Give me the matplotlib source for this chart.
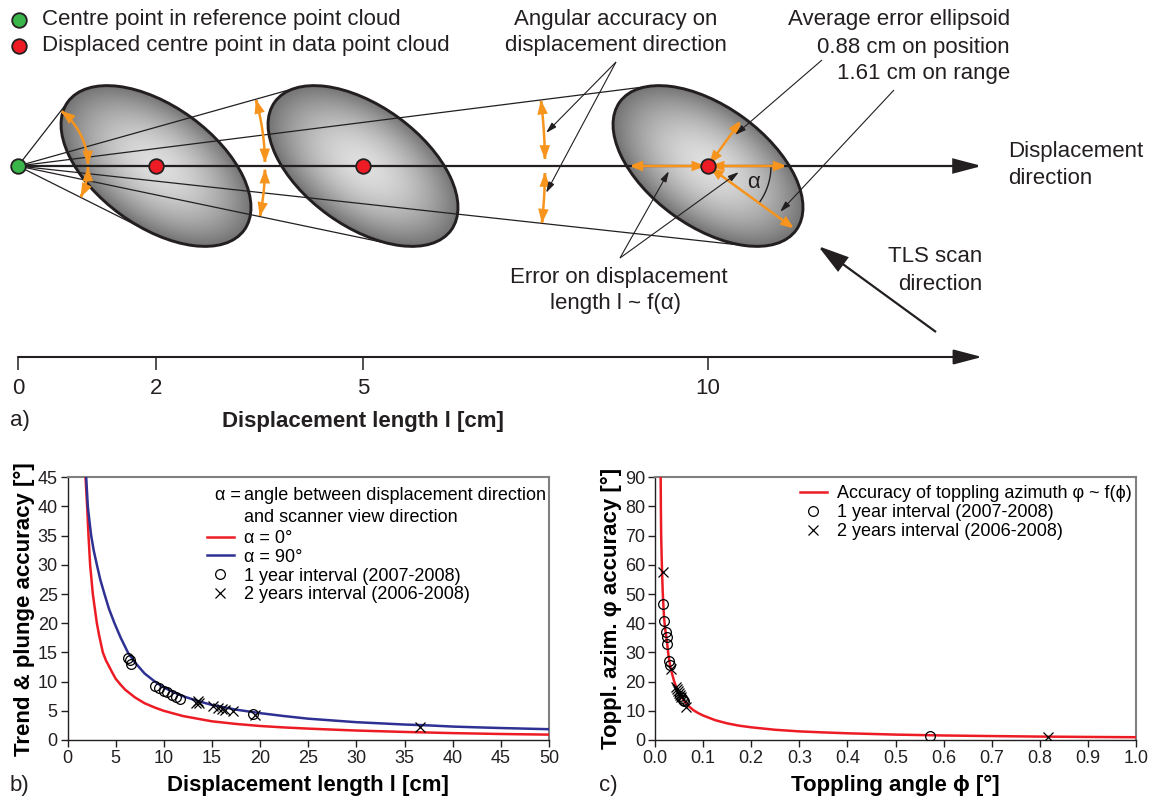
import numpy as np
import matplotlib
matplotlib.use("Agg")
import matplotlib.pyplot as plt
from matplotlib.patches import Ellipse, FancyArrowPatch
from matplotlib.path import Path

plt.rcParams['font.family'] = ['Liberation Sans', 'DejaVu Sans']

# ------------------------------------------------------------------ data
# panel a (schematic)
axis_ticks_cm = [0, 2, 5, 10]
displaced_cm = [2, 5, 10]
pos_err_label = "0.88 cm on position"
range_err_label = "1.61 cm on range"

# panel b: accuracy curves
b_l_a0 = [1.87, 2.04, 2.18, 2.35, 2.63, 3.05, 3.30, 3.67, 4.00, 4.29, 4.60, 5.00,
          5.50, 6.00, 7.00, 8.00, 9.00, 10.0, 12.0, 15.0, 17.5, 20.0, 22.5, 25.0,
          27.5, 30.0, 35.0, 40.0, 45.0, 50.0]
b_v_a0 = [45.0, 40.0, 35.0, 30.0, 25.0, 20.0, 17.8, 15.0, 13.6, 12.7, 11.7, 10.5,
          9.5, 8.6, 7.3, 6.3, 5.6, 5.0, 4.1, 3.2, 2.75, 2.4, 2.15, 1.95,
          1.78, 1.62, 1.38, 1.18, 1.03, 0.92]
b_l_a90 = [1.94, 2.11, 2.28, 2.46, 2.72, 3.05, 3.40, 3.84, 4.30, 4.88, 5.50, 6.27,
           7.00, 8.00, 9.00, 10.0, 11.0, 12.0, 13.5, 15.0, 17.5, 20.0, 22.5, 25.0,
           27.5, 30.0, 32.5, 35.0, 37.5, 40.0, 42.5, 45.0, 47.5, 50.0]
b_v_a90 = [45.0, 40.0, 37.5, 35.0, 32.5, 30.0, 27.5, 25.0, 22.5, 20.0, 17.6, 15.0,
           13.3, 11.4, 10.1, 9.0, 8.2, 7.5, 6.7, 6.0, 5.2, 4.6, 4.1, 3.65,
           3.35, 3.05, 2.85, 2.65, 2.5, 2.3, 2.17, 2.05, 1.95, 1.85]
b_1y_l = [6.3, 6.45, 6.6, 9.1, 9.5, 10.0, 10.3, 10.9, 11.3, 11.7, 19.3]
b_1y_v = [14.0, 13.7, 13.1, 9.3, 8.9, 8.45, 8.3, 7.7, 7.4, 7.1, 4.5]
b_2y_l = [13.3, 13.5, 13.7, 15.1, 15.6, 16.0, 16.4, 17.2, 19.5, 36.6]
b_2y_v = [6.4, 6.7, 6.3, 5.9, 5.5, 5.3, 5.2, 5.0, 4.2, 2.2]

# panel c
c_phi = [0.0118, 0.0122, 0.0128, 0.0138, 0.0146, 0.0160, 0.0175, 0.0188, 0.0205,
         0.0225, 0.0250, 0.0280, 0.0310, 0.0350, 0.0400, 0.0450, 0.0500, 0.0600,
         0.0700, 0.0800, 0.0900, 0.100, 0.125, 0.150, 0.175, 0.200, 0.250, 0.300,
         0.350, 0.400, 0.500, 0.600, 0.700, 0.800, 0.900, 1.000]
c_acc = [90.0, 80.0, 70.0, 63.0, 58.0, 51.0, 46.0, 42.0, 39.0,
         36.5, 33.5, 29.0, 26.0, 23.0, 20.0, 17.8, 16.0, 13.5,
         11.6, 10.2, 9.2, 8.4, 6.8, 5.7, 4.9, 4.35, 3.5, 2.95,
         2.6, 2.3, 1.85, 1.55, 1.35, 1.17, 1.05, 0.95]
c_1y_phi = [0.0174, 0.0183, 0.0229, 0.0243, 0.0257, 0.0285, 0.0313, 0.053, 0.056, 0.059, 0.061, 0.572]
c_1y_acc = [46.5, 40.9, 36.9, 35.4, 32.9, 27.1, 25.6, 15.0, 14.3, 13.8, 13.3, 1.4]
c_2y_phi = [0.016, 0.034, 0.043, 0.045, 0.047, 0.049, 0.052, 0.054, 0.0646, 0.818]
c_2y_acc = [57.6, 24.3, 18.3, 17.6, 16.8, 16.0, 15.3, 14.6, 11.4, 0.9]

# ------------------------------------------------------------------ style
W, H = 1151, 801
RED = '#ed1c24'
BLUE = '#2e3192'
GREEN = '#3ab54a'
ORANGE = '#f7941d'
DARK = '#231f20'
FS_DIAG = 16
FS_LEG = 13
FS_TICK = 13
FS_LAB = 16

fig = plt.figure(figsize=(W / 100, H / 100), dpi=100)

# ================================================================== panel a
PXCM = 69.0      # pixels per cm on the schematic axis
X0, YL = 18.0, 166.0
A_H = 440
ax_a = fig.add_axes([0, 1 - A_H / H, 1, A_H / H])
ax_a.axis('off')


def P(px, py):
    return ((px - X0) / PXCM, (YL - py) / PXCM)


def arrow(p0, p1, style, lw, color, ms, z=5):
    a = FancyArrowPatch(p0, p1, arrowstyle=style, mutation_scale=ms, lw=lw,
                        color=color, shrinkA=0, shrinkB=0, zorder=z,
                        joinstyle='miter', capstyle='butt')
    ax_a.add_patch(a)


def path_arrow(pts, style, lw, color, ms, z=6):
    a = FancyArrowPatch(path=Path(pts), arrowstyle=style, mutation_scale=ms,
                        lw=lw, color=color, zorder=z, joinstyle='miter',
                        capstyle='butt')
    ax_a.add_patch(a)


ELL_A, ELL_B, ELL_ANG = 109 / PXCM, 60 / PXCM, -36.0
tangents = []
for cx in displaced_cm:
    ext = ELL_A * 1.05
    xs = np.linspace(cx - ext, cx + ext, 300)
    ys = np.linspace(-ext, ext, 300)
    X, Y = np.meshgrid(xs, ys)
    t = np.deg2rad(ELL_ANG)
    u = (X - cx) * np.cos(t) + Y * np.sin(t)
    v = -(X - cx) * np.sin(t) + Y * np.cos(t)
    r = np.sqrt((u / ELL_A) ** 2 + (v / ELL_B) ** 2)
    g = 0.87 - 0.42 * np.clip(r, 0, 1) ** 1.8
    im = ax_a.imshow(g, cmap='gray', vmin=0, vmax=1, origin='lower',
                     extent=(xs[0], xs[-1], ys[0], ys[-1]),
                     interpolation='bilinear', zorder=2)
    clip = Ellipse((cx, 0), 2 * ELL_A, 2 * ELL_B, angle=ELL_ANG,
                   transform=ax_a.transData)
    im.set_clip_path(clip)
    ax_a.add_patch(Ellipse((cx, 0), 2 * ELL_A, 2 * ELL_B, angle=ELL_ANG,
                           fc='none', ec=DARK, lw=2.1, zorder=3))
    tt = np.linspace(0, 2 * np.pi, 4000)
    bx = cx + ELL_A * np.cos(tt) * np.cos(t) - ELL_B * np.sin(tt) * np.sin(t)
    by = ELL_A * np.cos(tt) * np.sin(t) + ELL_B * np.sin(tt) * np.cos(t)
    angs = np.arctan2(by, bx)
    iu, il = np.argmax(angs), np.argmin(angs)
    tangents.append(((bx[iu], by[iu]), (bx[il], by[il]), angs[iu], angs[il]))
    for (px_, py_) in [(bx[iu], by[iu]), (bx[il], by[il])]:
        ax_a.plot([0, px_], [0, py_], color=DARK, lw=0.9, zorder=4)

# main displacement arrow
arrow(P(18, 166), P(982, 166), '-|>,head_length=1.75,head_width=0.46', 1.6, DARK, 10)

# orange angular-accuracy arcs
arc_r = [70 / PXCM, 247 / PXCM, 527 / PXCM]
OST = '<|-|>,head_length=1.15,head_width=0.42'
for rr, (tu, tl, au, al) in zip(arc_r, tangents):
    for a0, a1 in [(au, 0.012), (-0.012, al)]:
        aa = np.linspace(a0, a1, 60)
        pts = np.column_stack([rr * np.cos(aa), rr * np.sin(aa)])
        path_arrow(pts, OST, 1.8, ORANGE, 6)

# orange error arrows in the last ellipse
c3 = displaced_cm[-1]
th = np.deg2rad(ELL_ANG)
inv = np.sqrt(np.cos(th) ** 2 / ELL_A ** 2 + np.sin(th) ** 2 / ELL_B ** 2)
hx = 1 / inv
g = 2 / PXCM
arrow((c3 - g, 0), (c3 - hx + 0.03, 0), OST, 1.8, ORANGE, 6, z=6)
arrow((c3 + g, 0), (c3 + hx - 0.03, 0), OST, 1.8, ORANGE, 6, z=6)
arrow((c3 + g * np.cos(th), g * np.sin(th)),
      (c3 + 0.98 * ELL_A * np.cos(th), 0.98 * ELL_A * np.sin(th)), OST, 1.8, ORANGE, 6, z=6)
tp = th + np.pi / 2
arrow((c3 + g * np.cos(tp), g * np.sin(tp)),
      (c3 + 0.95 * ELL_B * np.cos(tp), 0.95 * ELL_B * np.sin(tp)), OST, 1.8, ORANGE, 6, z=6)

# alpha arc
aa = np.linspace(0, th, 40)
ax_a.plot(c3 + 63 / PXCM * np.cos(aa), 63 / PXCM * np.sin(aa), color=DARK, lw=1.0, zorder=5)
ax_a.text(*P(754, 182), 'α', fontsize=FS_DIAG, ha='center', va='center', color=DARK, zorder=8)

# centre points
ax_a.plot([0], [0], 'o', ms=10.5, mfc=GREEN, mec=DARK, mew=1.3, zorder=8)
ax_a.plot(displaced_cm, [0] * len(displaced_cm), 'o', ms=10.5, mfc=RED, mec=DARK, mew=1.3, zorder=8)

# pointer lines
PST = '-|>,head_length=1.1,head_width=0.32'
for p0, p1 in [((616, 62), (546, 133)), ((616, 62), (546, 193)),
               ((822, 60), (735, 135)), ((894, 90), (780, 212)),
               ((620, 258), (669, 171)), ((620, 258), (739, 172))]:
    arrow(P(*p0), P(*p1), PST, 0.8, DARK, 6, z=7)

# TLS scan direction arrow
arrow(P(936, 332), P(818, 246), '-|>,head_length=1.9,head_width=0.55', 1.6, DARK, 10, z=7)

# top-left key
ax_a.plot(*P(19, 20), 'o', ms=10.5, mfc=GREEN, mec=DARK, mew=1.3, zorder=8)
ax_a.plot(*P(19, 46), 'o', ms=10.5, mfc=RED, mec=DARK, mew=1.3, zorder=8)

texts = [
    ("Centre point in reference point cloud", 42, 20, 'left'),
    ("Displaced centre point in data point cloud", 42, 46, 'left'),
    ("Angular accuracy on", 616, 20, 'center'),
    ("displacement direction", 616, 46, 'center'),
    ("Average error ellipsoid", 1010, 20, 'right'),
    (pos_err_label, 1010, 47, 'right'),
    (range_err_label, 1010, 74, 'right'),
    ("Displacement", 1008, 152, 'left'),
    ("direction", 1008, 178, 'left'),
    ("Error on displacement", 619, 277, 'center'),
    ("length l ~ f(α)", 615, 304, 'center'),
    ("TLS scan", 982, 257, 'right'),
    ("direction", 982, 284, 'right'),
]
for s, x, y, ha in texts:
    ax_a.text(*P(x, y), s, fontsize=FS_DIAG, ha=ha, va='center', color=DARK, zorder=9)

# bottom displacement axis
AY = 357
ax_a.add_patch(FancyArrowPatch((0, (YL - AY) / PXCM), P(982, AY),
                               arrowstyle='-|>,head_length=1.75,head_width=0.46',
                               mutation_scale=10, lw=1.5, color=DARK,
                               shrinkA=0, shrinkB=0, zorder=5))
for tk in axis_ticks_cm:
    ax_a.plot([tk, tk], [(YL - AY) / PXCM, (YL - AY - 13) / PXCM], color=DARK, lw=1.1, zorder=5,
              solid_capstyle='butt')
    ax_a.text(tk, (YL - 389) / PXCM, str(tk), fontsize=FS_DIAG, ha='center', va='center', color=DARK)
ax_a.text(5, (YL - 421) / PXCM, "Displacement length l [cm]", fontsize=FS_LAB,
          fontweight='bold', ha='center', va='center', color=DARK)

ax_a.set_xlim(-X0 / PXCM, (W - X0) / PXCM)
ax_a.set_ylim((YL - A_H) / PXCM, YL / PXCM)
ax_a.set_aspect('auto')

fig.text(10 / W, 1 - 421 / H, "a)", fontsize=FS_DIAG, ha='left', va='center', color=DARK)
fig.text(10 / W, 1 - 785 / H, "b)", fontsize=FS_DIAG, ha='left', va='center', color=DARK)
fig.text(599 / W, 1 - 785 / H, "c)", fontsize=FS_DIAG, ha='left', va='center', color=DARK)


# ================================================================== panels b, c
def style_axes(ax):
    for s in ['left', 'bottom']:
        ax.spines[s].set_color(DARK)
        ax.spines[s].set_linewidth(1.0)
    for s in ['top', 'right']:
        ax.spines[s].set_color('#808080')
        ax.spines[s].set_linewidth(1.5)
    ax.tick_params(direction='out', length=5, width=1.0, labelsize=FS_TICK, pad=2,
                   colors=DARK)


BOT, TOP = 740, 477.3
axb = fig.add_axes([67.5 / W, (H - BOT) / H, (549 - 67.5) / W, (BOT - TOP) / H])
axb.plot(b_l_a0, b_v_a0, color=RED, lw=1.8, label='α = 0°', zorder=3)
axb.plot(b_l_a90, b_v_a90, color=BLUE, lw=1.8, label='α = 90°', zorder=3)
axb.plot(b_1y_l, b_1y_v, 'o', ls='none', mfc='none', mec='k', ms=7, mew=0.9,
         label='1 year interval (2007-2008)', zorder=4)
axb.plot(b_2y_l, b_2y_v, 'x', ls='none', color='k', ms=7.5, mew=0.9,
         label='2 years interval (2006-2008)', zorder=4)
axb.set_xlim(0, 50)
axb.set_ylim(0, 45)
axb.set_xticks(np.arange(0, 51, 5))
axb.set_yticks(np.arange(0, 46, 5))
style_axes(axb)
axb.set_xlabel("Displacement length l [cm]", fontsize=FS_LAB, fontweight='bold', labelpad=6)
axb.set_ylabel("Trend & plunge accuracy [°]", fontsize=FS_LAB, fontweight='bold', labelpad=2)
legb = axb.legend(loc='upper left', bbox_to_anchor=((206.6 - 67.5) / 481.5, (BOT - 530) / (BOT - TOP)),
                  frameon=False, fontsize=FS_LEG, handlelength=1.5, handletextpad=0.55,
                  labelspacing=0.1, borderpad=0, borderaxespad=0)
fig.canvas.draw()
tb = legb.get_texts()[0].get_window_extent()
inv_t = axb.transAxes.inverted()
lx = inv_t.transform((tb.x0, tb.y0))[0]
yd1 = (BOT - 495) / (BOT - TOP)
yd2 = (BOT - 517) / (BOT - TOP)
axb.text(lx - 0.005, yd1, "α =", transform=axb.transAxes, fontsize=FS_LEG, ha='right', va='center')
axb.text(lx, yd1, "angle between displacement direction", transform=axb.transAxes,
         fontsize=FS_LEG, ha='left', va='center')
axb.text(lx, yd2, "and scanner view direction", transform=axb.transAxes,
         fontsize=FS_LEG, ha='left', va='center')

axc = fig.add_axes([655 / W, (H - BOT) / H, (1136 - 655) / W, (BOT - TOP) / H])
axc.plot(c_phi, c_acc, color=RED, lw=1.8, label='Accuracy of toppling azimuth φ ~ f(ϕ)', zorder=3)
axc.plot(c_1y_phi, c_1y_acc, 'o', ls='none', mfc='none', mec='k', ms=7, mew=0.9,
         label='1 year interval (2007-2008)', zorder=4)
axc.plot(c_2y_phi, c_2y_acc, 'x', ls='none', color='k', ms=7.5, mew=0.9,
         label='2 years interval (2006-2008)', zorder=4)
axc.set_xlim(0, 1.0)
axc.set_ylim(0, 90)
axc.set_xticks(np.round(np.arange(0, 1.01, 0.1), 1))
axc.set_xticklabels([f"{v:.1f}" for v in np.arange(0, 1.01, 0.1)])
axc.set_yticks(np.arange(0, 91, 10))
style_axes(axc)
axc.set_xlabel("Toppling angle ϕ [°]", fontsize=FS_LAB, fontweight='bold', labelpad=6)
axc.set_ylabel("Toppl. azim. φ accuracy [°]", fontsize=FS_LAB, fontweight='bold', labelpad=2)
axc.legend(loc='upper left', bbox_to_anchor=((799.5 - 655) / 481, (BOT - 485.5) / (BOT - TOP)),
           frameon=False, fontsize=FS_LEG, handlelength=1.5, handletextpad=0.55,
           labelspacing=0.1, borderpad=0, borderaxespad=0)

fig.savefig("out.png", dpi=100)
